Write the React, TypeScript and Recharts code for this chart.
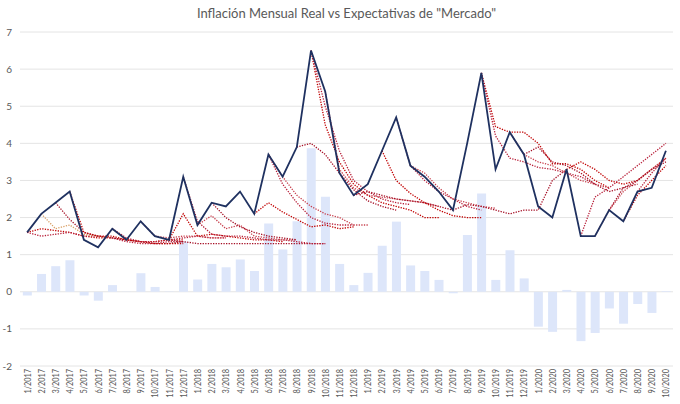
import React from "react";
import {
  ComposedChart,
  Bar,
  Line,
  XAxis,
  YAxis,
  CartesianGrid,
} from "recharts";

const months = [
  "1/2017", "2/2017", "3/2017", "4/2017", "5/2017", "6/2017", "7/2017", "8/2017", "9/2017", "10/2017", "11/2017", "12/2017",
  "1/2018", "2/2018", "3/2018", "4/2018", "5/2018", "6/2018", "7/2018", "8/2018", "9/2018", "10/2018", "11/2018", "12/2018",
  "1/2019", "2/2019", "3/2019", "4/2019", "5/2019", "6/2019", "7/2019", "8/2019", "9/2019", "10/2019", "11/2019", "12/2019",
  "1/2020", "2/2020", "3/2020", "4/2020", "5/2020", "6/2020", "7/2020", "8/2020", "9/2020", "10/2020",
];

// inflación mensual real (INDEC)
const actual = [
  1.6, 2.1, 2.4, 2.7, 1.4, 1.2, 1.7, 1.4, 1.9, 1.5, 1.4, 3.1,
  1.8, 2.4, 2.3, 2.7, 2.1, 3.7, 3.1, 3.9, 6.5, 5.4, 3.2, 2.6,
  2.9, 3.8, 4.7, 3.4, 3.1, 2.7, 2.2, 4.0, 5.9, 3.3, 4.3, 3.7,
  2.3, 2.0, 3.3, 1.5, 1.5, 2.2, 1.9, 2.7, 2.8, 3.8,
];

// diferencia real - expectativa
const diff = [
  -0.1, 0.48, 0.69, 0.85, -0.1, -0.24, 0.18, 0.01, 0.5, 0.13, 0.01, 1.35,
  0.33, 0.75, 0.66, 0.87, 0.56, 1.84, 1.14, 1.9, 3.87, 2.56, 0.75, 0.18,
  0.51, 1.24, 1.89, 0.71, 0.56, 0.32, -0.04, 1.53, 2.65, 0.32, 1.12, 0.36,
  -0.94, -1.08, 0.05, -1.33, -1.11, -0.45, -0.86, -0.33, -0.57, 0.02,
];

// expectativas REM: cada una arranca en el mes indicado
const e1701a = [1.6, 1.7, 1.65, 1.6, 1.5, 1.45, 1.45, 1.4, 1.35, 1.35, 1.4, 1.4];
const e1701b = [1.6, 1.5, 1.55, 1.6, 1.5, 1.5, 1.45, 1.35, 1.3, 1.3, 1.35, 1.35];
const e1702 = [2.1, 1.7, 1.8, 1.55, 1.5, 1.45];
const e1703 = [2.4, 1.95, 1.6, 1.5, 1.45, 1.4, 1.35, 1.3, 1.3, 1.35];
const e1704 = [2.7, 1.6, 1.5, 1.5, 1.4, 1.35, 1.3, 1.3, 1.3];
const e1707 = [1.7, 1.45, 1.35, 1.35, 1.4, 1.45, 1.5, 1.45, 1.45];
const e1709 = [1.9, 1.5, 1.45, 1.5, 1.5, 1.45, 1.45];
const e1711a = [1.4, 1.35, 1.3, 1.3, 1.3, 1.3, 1.3, 1.3, 1.3, 1.3, 1.3, 1.3];
const e1711b = [1.4, 2.1, 1.5, 1.55, 1.5, 1.45, 1.4, 1.4, 1.35];
const e1712 = [3.1, 1.9, 1.55, 1.5, 1.5, 1.45, 1.4, 1.4, 1.35, 1.3, 1.3];
const e1801 = [1.8, 2.05, 1.7, 1.8, 1.5, 1.45, 1.4, 1.4];
const e1802 = [2.4, 2.0, 1.75, 1.6, 1.5, 1.45, 1.4];
const e1805 = [2.1, 2.4, 2.15, 1.95, 1.75, 1.8, 1.7, 1.75];
const e1806a = [3.7, 2.9, 2.4, 2.0, 1.85, 1.8, 1.8];
const e1806b = [3.7, 3.1, 2.6, 2.3, 2.1, 2.0, 1.8, 1.8];
const e1808 = [3.9, 4.0, 3.7, 3.2, 2.75, 2.45, 2.3, 2.2];
const e1809a = [6.5, 4.5, 3.5, 2.9, 2.6, 2.4, 2.3, 2.2, 2.0, 2.0];
const e1809b = [6.5, 5.0, 3.8, 3.0, 2.7, 2.5, 2.4, 2.35];
const e1810 = [5.4, 3.3, 2.8, 2.6, 2.55, 2.5, 2.45, 2.4, 2.3];
const e1812 = [2.6, 2.7, 2.6, 2.5, 2.45, 2.4, 2.3, 2.2];
const e1902 = [3.8, 3.0, 2.65, 2.4, 2.2, 2.05, 2.0, 2.0];
const e1903 = [4.7, 3.4, 3.0, 2.7, 2.5, 2.3, 2.2];
const e1904 = [3.4, 3.2, 2.8, 2.5, 2.4, 2.3, 2.25];
const e1907 = [2.2, 2.35, 2.3, 2.2, 2.1, 2.2, 2.2, 3.0, 3.3];
const e1909a = [5.9, 4.45, 4.3, 4.3, 4.0, 3.45, 3.45, 3.3, 3.0, 2.8];
const e1909b = [5.9, 4.2, 3.6, 3.5, 3.35, 3.3, 3.2, 3.1, 2.9];
const e1911 = [4.3, 3.7, 3.5, 3.4, 3.2, 3.0, 2.9, 2.8];
const e1912 = [3.7, 3.9, 3.5, 3.4, 3.2, 2.9, 2.7, 2.8, 2.9];
const e2003 = [3.3, 3.5, 3.3, 3.0, 2.9, 3.0, 3.3, 3.6];
const e2004 = [1.5, 2.55, 2.8, 3.1, 3.4, 3.7, 4.0];
const e2005 = [1.5, 2.2, 2.7, 3.0, 3.3, 3.6];
const e2006 = [2.2, 2.8, 3.0, 3.3, 3.5];
const e2007 = [1.9, 2.6, 3.0, 3.4];
const e2008 = [2.7, 3.2, 3.6];

const expectations: [string, string, number[]][] = [
  ["e1701a", "1/2017", e1701a],
  ["e1701b", "1/2017", e1701b],
  ["e1702", "2/2017", e1702],
  ["e1703", "3/2017", e1703],
  ["e1704", "4/2017", e1704],
  ["e1707", "7/2017", e1707],
  ["e1709", "9/2017", e1709],
  ["e1711a", "11/2017", e1711a],
  ["e1711b", "11/2017", e1711b],
  ["e1712", "12/2017", e1712],
  ["e1801", "1/2018", e1801],
  ["e1802", "2/2018", e1802],
  ["e1805", "5/2018", e1805],
  ["e1806a", "6/2018", e1806a],
  ["e1806b", "6/2018", e1806b],
  ["e1808", "8/2018", e1808],
  ["e1809a", "9/2018", e1809a],
  ["e1809b", "9/2018", e1809b],
  ["e1810", "10/2018", e1810],
  ["e1812", "12/2018", e1812],
  ["e1902", "2/2019", e1902],
  ["e1903", "3/2019", e1903],
  ["e1904", "4/2019", e1904],
  ["e1907", "7/2019", e1907],
  ["e1909a", "9/2019", e1909a],
  ["e1909b", "9/2019", e1909b],
  ["e1911", "11/2019", e1911],
  ["e1912", "12/2019", e1912],
  ["e2003", "3/2020", e2003],
  ["e2004", "4/2020", e2004],
  ["e2005", "5/2020", e2005],
  ["e2006", "6/2020", e2006],
  ["e2007", "7/2020", e2007],
  ["e2008", "8/2020", e2008],
];

const reds = ["#c00000", "#b8203a", "#c8424f", "#a50f25"];

const data = months.map((m, i) => {
  const row: Record<string, any> = { month: m, actual: actual[i], diff: diff[i] };
  expectations.forEach(([key, start, vals]) => {
    const k = i - months.indexOf(start);
    row[key] = k >= 0 && k < vals.length ? vals[k] : null;
  });
  return row;
});

const FONT = "Lato, 'Open Sans', sans-serif";

const MonthTick = (props: any) => {
  const { x, y, payload } = props;
  const ty = y - 1;
  const label = String(payload.value);
  return (
    <text
      x={x}
      y={ty}
      transform={`rotate(-90, ${x}, ${ty})`}
      textAnchor="end"
      dominantBaseline="central"
      fontSize={9.5}
      fill="#595959"
      fontFamily={FONT}
      textLength={label.length * 4.1}
      lengthAdjust="spacingAndGlyphs"
    >
      {label}
    </text>
  );
};

export default function App() {
  return (
    <div style={{ position: "absolute", left: 0, top: 0, width: 680, height: 404, background: "#fff" }}>
      <div
        style={{
          position: "absolute",
          left: 20,
          width: 653,
          top: 5,
          textAlign: "center",
          fontFamily: FONT,
          fontSize: 13,
          color: "#595959",
        }}
      >
        Inflación Mensual Real vs Expectativas de "Mercado"
      </div>
      <ComposedChart
        width={680}
        height={404}
        data={data}
        margin={{ top: 32, right: 7, bottom: 0, left: 0 }}
        barCategoryGap="20%"
      >
        <CartesianGrid vertical={false} stroke="#e4e4e4" />
        <XAxis
          dataKey="month"
          interval={0}
          height={38}
          tickLine={false}
          axisLine={false}
          tickSize={4}
          tickMargin={0}
          tick={<MonthTick />}
        />
        <YAxis
          domain={[-2, 7]}
          ticks={[-2, -1, 0, 1, 2, 3, 4, 5, 6, 7]}
          width={20}
          tickLine={false}
          axisLine={false}
          tick={{ fontSize: 10, fill: "#595959", fontFamily: FONT }}
        />
        <Bar dataKey="diff" fill="#dde6fa" isAnimationActive={false} />
        {expectations.map(([key], i) => (
          <Line
            key={key}
            dataKey={key}
            stroke={key === "e1702" ? "#d9a066" : reds[i % reds.length]}
            strokeWidth={1.3}
            strokeDasharray="1.3 1.3"
            dot={false}
            connectNulls={false}
            isAnimationActive={false}
          />
        ))}
        <Line
          dataKey="actual"
          stroke="#1f3160"
          strokeWidth={1.8}
          dot={false}
          isAnimationActive={false}
        />
      </ComposedChart>
    </div>
  );
}
